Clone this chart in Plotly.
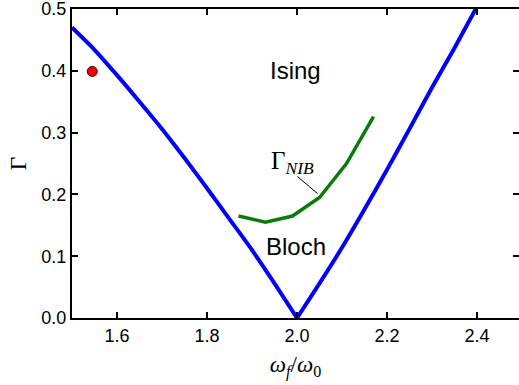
import plotly.graph_objects as go

# Phase boundary (blue): left branch and right branch
left_x = [1.5, 1.55, 1.6, 1.65, 1.7, 1.75, 1.8, 1.85, 1.9, 1.95, 2.0]
left_y = [0.470, 0.434, 0.393, 0.350, 0.306, 0.259, 0.210, 0.160, 0.110, 0.056, 0.0]
right_x = [2.0, 2.05, 2.1, 2.15, 2.2, 2.25, 2.3, 2.35, 2.4]
right_y = [0.0, 0.056, 0.114, 0.176, 0.240, 0.306, 0.373, 0.437, 0.504]

# Gamma_NIB curve (green)
nib_x = [1.87, 1.93, 1.99, 2.05, 2.11, 2.17]
nib_y = [0.165, 0.155, 0.165, 0.195, 0.250, 0.326]

# Red point
pt_x = [1.545]
pt_y = [0.399]

x_ticks = [1.6, 1.8, 2.0, 2.2, 2.4]
x_tick_text = ["1.6", "1.8", "2.0", "2.2", "2.4"]
y_ticks = [0.0, 0.1, 0.2, 0.3, 0.4, 0.5]
y_tick_text = ["0.0", "0.1", "0.2", "0.3", "0.4", "0.5"]

fig = go.Figure()
for bx, by in ((left_x, left_y), (right_x, right_y)):
    fig.add_trace(go.Scatter(x=bx, y=by, mode="lines",
                             line=dict(color="#0000ff", width=4, shape="spline",
                                       smoothing=0.6),
                             showlegend=False))
fig.add_trace(go.Scatter(x=nib_x, y=nib_y, mode="lines",
                         line=dict(color="#0a7a0a", width=3.5), showlegend=False))
fig.add_trace(go.Scatter(x=pt_x, y=pt_y, mode="markers",
                         marker=dict(color="#ee0000", size=10,
                                     line=dict(color="#400000", width=1)),
                         showlegend=False))
# invisible trace to carry the right-hand tick axis
fig.add_trace(go.Scatter(x=[None], y=[None], yaxis="y2", showlegend=False,
                         hoverinfo="skip"))

font_sans = "Liberation Sans, Arial, sans-serif"
font_serif = "Liberation Serif, Times New Roman, serif"

fig.add_annotation(x=1.997, y=0.40, text="Ising", showarrow=False,
                   font=dict(family=font_sans, size=24, color="black"))
fig.add_annotation(x=1.997, y=0.116, text="Bloch", showarrow=False,
                   font=dict(family=font_sans, size=24, color="black"))
fig.add_annotation(x=1.99, y=0.252, text="Γ<sub><i>NIB</i></sub>", showarrow=False,
                   font=dict(family=font_serif, size=25, color="black"))
fig.add_shape(type="line", x0=2.001, y0=0.229, x1=2.046, y1=0.201,
              line=dict(color="black", width=1))

fig.update_layout(
    width=519, height=385,
    margin=dict(l=72, r=0, t=9, b=67),
    paper_bgcolor="white", plot_bgcolor="white",
    xaxis=dict(range=[1.5, 2.4933], tickvals=x_ticks, ticktext=x_tick_text,
               automargin=False, ticklabeloverflow="allow",
               showgrid=False, zeroline=False, showline=True, mirror="ticks",
               linecolor="black", linewidth=2, ticks="inside", ticklen=6,
               tickwidth=1.5, tickcolor="black",
               tickfont=dict(family=font_sans, size=18, color="black"),
               title=dict(text="<i>ω</i><sub><i>f</i></sub>/<i>ω</i><sub>0</sub>",
                          font=dict(family=font_serif, size=23, color="black"),
                          standoff=11)),
    yaxis=dict(range=[0, 0.5], tickvals=y_ticks, ticktext=y_tick_text,
               automargin=False, ticklabeloverflow="allow",
               showgrid=False, zeroline=False, showline=True, mirror=False,
               linecolor="black", linewidth=2, ticks="inside", ticklen=6,
               tickwidth=1.5, tickcolor="black",
               tickfont=dict(family=font_sans, size=18, color="black"),
               title=dict(text="Γ", font=dict(family=font_serif, size=24, color="black"),
                          standoff=8)),
    yaxis2=dict(range=[0, 0.5], overlaying="y", side="right", tickvals=y_ticks,
                automargin=False,
                showticklabels=False, showgrid=False, zeroline=False, showline=False,
                ticks="inside", ticklen=6, tickwidth=1.5, tickcolor="black"),
)

fig.write_html("out.html",
               config={"displayModeBar": False},
               post_script="document.body.style.margin='0';"
                           "document.documentElement.style.overflow='hidden';")
